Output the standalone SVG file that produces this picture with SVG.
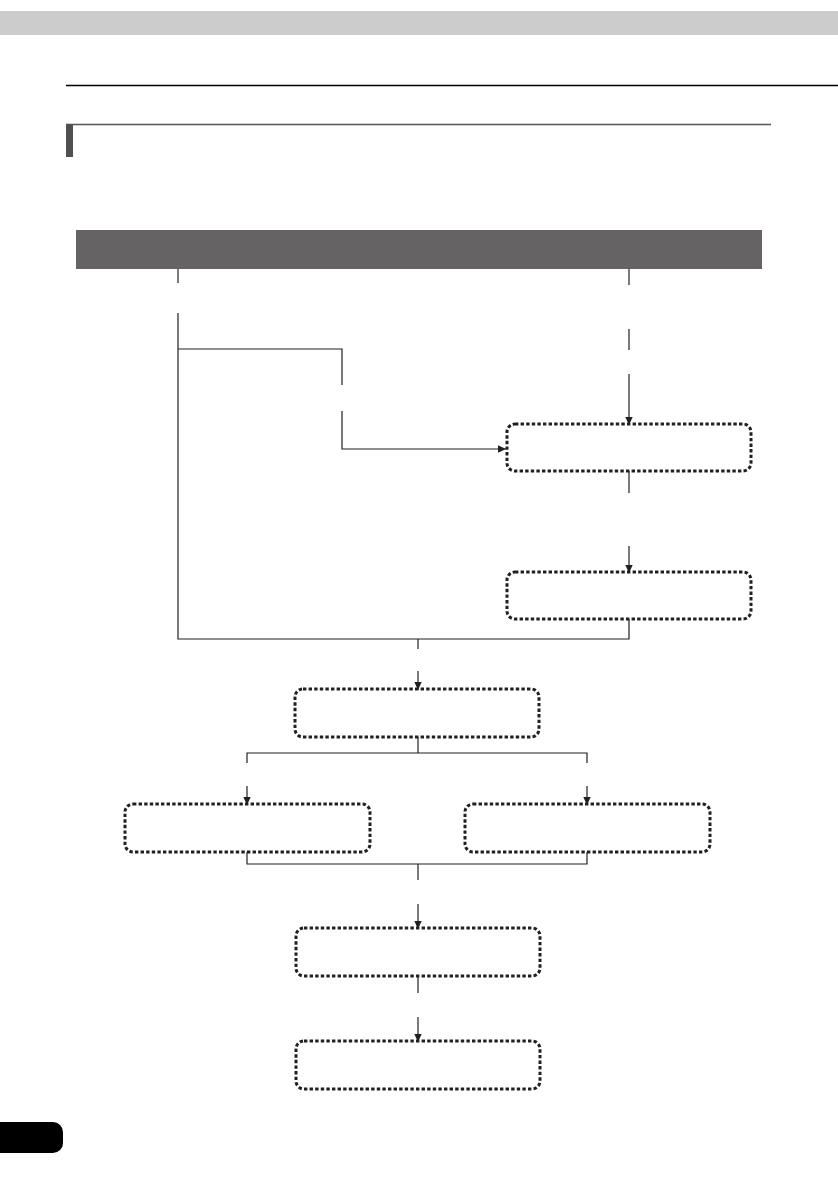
<svg xmlns="http://www.w3.org/2000/svg" width="838" height="1192" viewBox="0 0 838 1192">
<defs>
<marker id="ah" markerWidth="9" markerHeight="9" refX="8" refY="4.5" orient="auto" markerUnits="userSpaceOnUse">
<path d="M0,0.8 L8,4.5 L0,8.2 Z" fill="#231f20"/>
</marker>
<style>
.box{fill:none;stroke:#231f20;stroke-width:3;stroke-dasharray:3.4 2.2}
.ln{fill:none;stroke:#231f20;stroke-width:1.2}
.ar{fill:none;stroke:#231f20;stroke-width:1.2;marker-end:url(#ah)}
</style>
</defs>
<rect width="838" height="1192" fill="#ffffff"/>
<g id="page-header">
<rect x="0" y="11" width="838" height="24" fill="#cccccc"/>
<line x1="66" y1="85.5" x2="838" y2="85.5" stroke="#000000" stroke-width="1.3"/>
<line x1="66" y1="124.5" x2="771" y2="124.5" stroke="#555555" stroke-width="1.4"/>
<rect x="66" y="124" width="7" height="33" fill="#505050"/>
</g>
<g id="banner"><rect x="76" y="230" width="686" height="39" fill="#656364"/></g>
<g id="connectors">
<line class="ln" x1="178" y1="269" x2="178" y2="283"/>
<polyline class="ln" points="178,313 178,639 629,639 629,619"/>
<polyline class="ln" points="178,349 342,349 342,385"/>
<polyline class="ar" points="342,411 342,449 506,449"/>
<line class="ln" x1="629" y1="269" x2="629" y2="285"/>
<line class="ln" x1="629" y1="329" x2="629" y2="350"/>
<line class="ar" x1="629" y1="374" x2="629" y2="425"/>
<line class="ln" x1="629" y1="471" x2="629" y2="493"/>
<line class="ar" x1="629" y1="546" x2="629" y2="573"/>
<line class="ln" x1="418" y1="639" x2="418" y2="649"/>
<line class="ar" x1="418" y1="671" x2="418" y2="690"/>
<line class="ln" x1="418" y1="737" x2="418" y2="753"/>
<polyline class="ln" points="247,763 247,753 587,753 587,763"/>
<line class="ar" x1="247" y1="786" x2="247" y2="805"/>
<line class="ar" x1="587" y1="786" x2="587" y2="805"/>
<polyline class="ln" points="247,852 247,864 587,864 587,852"/>
<line class="ln" x1="418" y1="864" x2="418" y2="880"/>
<line class="ar" x1="418" y1="904" x2="418" y2="929"/>
<line class="ln" x1="418" y1="976" x2="418" y2="993"/>
<line class="ar" x1="418" y1="1017" x2="418" y2="1042"/>
</g>
<g id="box1"><rect class="box" x="507" y="424" width="244" height="47" rx="8"/></g>
<g id="box2"><rect class="box" x="507" y="572" width="244" height="47" rx="8"/></g>
<g id="box3"><rect class="box" x="295" y="689" width="244" height="48" rx="8"/></g>
<g id="box4"><rect class="box" x="125" y="804" width="245" height="48" rx="8"/></g>
<g id="box5"><rect class="box" x="465" y="804" width="245" height="48" rx="8"/></g>
<g id="box6"><rect class="box" x="296" y="928" width="244" height="48" rx="8"/></g>
<g id="box7"><rect class="box" x="296" y="1041" width="244" height="48" rx="8"/></g>
<g id="page-tab"><path d="M0,1122 H53 A10,10 0 0 1 63,1132 V1143 A10,10 0 0 1 53,1153 H0 Z" fill="#000000"/></g>
</svg>
